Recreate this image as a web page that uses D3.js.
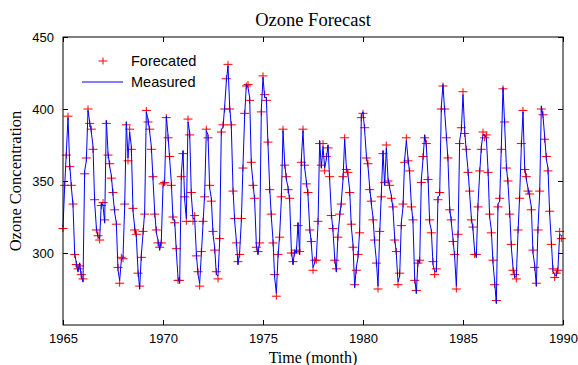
<!DOCTYPE html>
<html>
<head>
<meta charset="utf-8">
<script src="https://cdn.jsdelivr.net/npm/d3@7"></script>
<style>
  body { margin: 0; background: #fff; }
  .tick text { font-family: "Liberation Sans", Arial, sans-serif; font-size: 13px; fill: #000; }
  .tick line { stroke: #000; }
</style>
</head>
<body>
<div id="chart"></div>
<script>
// monthly values, one row per year, Jan 1965 .. Dec 1989
const measured = [
  318, 346, 370, 394, 362, 346, 333, 300, 293, 287, 293, 283, // 1965
  280, 357, 364, 399, 391, 384, 374, 335, 318, 311, 310, 335, // 1966
  333, 321, 392, 370, 360, 354, 340, 328, 321, 288, 281, 295, // 1967
  297, 332, 391, 366, 384, 374, 329, 318, 311, 288, 275, 299, // 1968
  313, 329, 398, 393, 384, 374, 351, 329, 314, 309, 302, 309, // 1969
  346, 351, 395, 382, 365, 349, 323, 323, 301, 283, 279, 355, // 1970
  371, 337, 324, 391, 384, 340, 324, 324, 300, 285, 279, 299, // 1971
  320, 341, 385, 382, 345, 338, 313, 304, 285, 284, 308, 386, // 1972
  387, 402, 419, 430, 402, 387, 345, 322, 309, 292, 301, 322, // 1973
  361, 395, 417, 415, 408, 361, 349, 336, 306, 299, 309, 400, // 1974
  422, 408, 408, 375, 346, 325, 309, 283, 272, 297, 313, 337, // 1975
  385, 363, 351, 346, 336, 302, 292, 302, 300, 321, 299, 365, // 1976
  385, 359, 350, 340, 318, 306, 290, 293, 297, 320, 378, 359, // 1977
  374, 359, 365, 375, 351, 328, 315, 297, 287, 313, 325, 336, // 1978
  351, 379, 360, 354, 344, 318, 306, 276, 290, 297, 316, 396, // 1979
  398, 385, 368, 360, 346, 334, 325, 307, 295, 277, 313, 341, // 1980
  371, 347, 373, 352, 345, 340, 330, 311, 299, 280, 284, 321, // 1981
  332, 365, 378, 366, 355, 334, 321, 283, 272, 295, 293, 351, // 1982
  365, 382, 374, 353, 321, 316, 292, 287, 287, 339, 340, 402, // 1983
  417, 398, 382, 364, 332, 321, 310, 297, 277, 311, 378, 385, // 1984
  410, 385, 370, 358, 341, 325, 316, 301, 297, 334, 355, 374, // 1985
  382, 382, 380, 358, 325, 316, 293, 280, 265, 334, 336, 374, // 1986
  415, 389, 361, 348, 329, 304, 290, 283, 284, 314, 340, 374, // 1987
  398, 360, 351, 345, 339, 332, 300, 292, 277, 318, 341, 402, // 1988
  395, 381, 365, 359, 327, 308, 287, 285, 284, 290, 313, 312  // 1989
];

const forecast = [
  317, 347, 368, 395, 360, 347, 334, 299, 292, 289, 291, 285,
  282, 355, 366, 400, 390, 386, 372, 337, 316, 312, 309, 333,
  335, 323, 390, 368, 362, 352, 342, 330, 320, 290, 279, 297,
  296, 334, 389, 364, 386, 372, 331, 316, 313, 286, 277, 297,
  315, 327, 399, 391, 386, 372, 353, 327, 316, 307, 304, 307,
  348, 349, 394, 380, 367, 347, 325, 321, 303, 281, 281, 353,
  369, 339, 322, 393, 382, 342, 322, 326, 298, 287, 277, 301,
  322, 339, 386, 380, 347, 336, 315, 302, 287, 282, 310, 384,
  389, 400, 421, 431, 400, 389, 343, 324, 307, 294, 299, 324,
  359, 397, 416, 417, 406, 363, 347, 338, 304, 301, 307, 398,
  423, 410, 406, 377, 344, 327, 307, 285, 270, 299, 311, 339,
  386, 361, 353, 344, 338, 300, 294, 300, 302, 319, 301, 363,
  386, 361, 348, 342, 316, 308, 288, 295, 295, 322, 376, 361,
  376, 357, 367, 373, 353, 326, 317, 295, 289, 311, 327, 334,
  353, 380, 358, 356, 342, 320, 304, 278, 288, 299, 314, 394,
  397, 387, 366, 362, 344, 336, 323, 309, 293, 275, 315, 339,
  369, 349, 375, 350, 347, 338, 332, 309, 301, 278, 286, 319,
  334, 363, 380, 364, 357, 332, 323, 281, 274, 293, 295, 349,
  367, 380, 376, 351, 323, 314, 294, 285, 289, 337, 342, 400,
  416, 400, 380, 366, 330, 323, 308, 299, 275, 313, 376, 387,
  412, 383, 372, 356, 343, 323, 318, 299, 299, 332, 357, 372,
  384, 380, 382, 356, 327, 314, 295, 278, 267, 332, 338, 372,
  414, 391, 359, 350, 327, 306, 288, 285, 282, 316, 338, 376,
  399, 358, 353, 343, 341, 330, 302, 290, 279, 316, 343, 400,
  396, 379, 367, 357, 329, 306, 289, 283, 286, 288, 315, 310
];

const startYear = 1965;
const xTicks = [1965, 1970, 1975, 1980, 1985, 1990];
const yTicks = [300, 350, 400, 450];
const legendLabels = ["Forecated", "Measured"];

const width = 578, height = 365;
const margin = {top: 37, right: 15, bottom: 40, left: 63};

const svg = d3.select("#chart")
  .append("svg")
  .attr("width", width)
  .attr("height", height);

const x = d3.scaleLinear()
  .domain([1965, 1990])
  .range([margin.left, width - margin.right]);

const y = d3.scaleLinear()
  .domain([250, 450])
  .range([height - margin.bottom, margin.top]);

const t = i => startYear + i / 12;

// axes, ticks pointing inward
svg.append("g")
  .attr("transform", `translate(0,${height - margin.bottom})`)
  .call(d3.axisBottom(x).tickValues(xTicks).tickFormat(d3.format("d")).tickSizeInner(-5).tickSizeOuter(0).tickPadding(9))
  .call(g => g.select(".domain").remove());

svg.append("g")
  .attr("transform", `translate(0,${margin.top})`)
  .call(d3.axisTop(x).tickValues(xTicks).tickFormat("").tickSizeInner(-5).tickSizeOuter(0))
  .call(g => g.select(".domain").remove());

svg.append("g")
  .attr("transform", `translate(${margin.left},0)`)
  .call(d3.axisLeft(y).tickValues(yTicks).tickSizeInner(-5).tickSizeOuter(0).tickPadding(9))
  .call(g => g.select(".domain").remove());

svg.append("g")
  .attr("transform", `translate(${width - margin.right},0)`)
  .call(d3.axisRight(y).tickValues(yTicks).tickFormat("").tickSizeInner(-5).tickSizeOuter(0))
  .call(g => g.select(".domain").remove());

// forecast markers
svg.append("g")
  .selectAll("path")
  .data(forecast)
  .join("path")
  .attr("d", (d, i) => {
    const cx = x(t(i)), cy = y(d);
    return `M${cx - 4.5},${cy}H${cx + 4.5}M${cx},${cy - 3.5}V${cy + 3.5}`;
  })
  .attr("stroke", "#ff0000")
  .attr("stroke-width", 1)
  .attr("fill", "none");

// measured line
const line = d3.line()
  .x((d, i) => x(t(i)))
  .y(d => y(d));

svg.append("path")
  .datum(measured)
  .attr("d", line)
  .attr("fill", "none")
  .attr("stroke", "#0000ff")
  .attr("stroke-width", 1);

// box
svg.append("rect")
  .attr("x", margin.left)
  .attr("y", margin.top)
  .attr("width", width - margin.left - margin.right)
  .attr("height", height - margin.top - margin.bottom)
  .attr("fill", "none")
  .attr("stroke", "#000")
  .attr("stroke-width", 1);

// legend
const legend = svg.append("g")
  .style("font-family", "'Liberation Sans', Arial, sans-serif")
  .style("font-size", "14.5px");

legend.append("path")
  .attr("d", "M98.5,61H107.5M103,57.5V64.5")
  .attr("stroke", "#ff0000")
  .attr("fill", "none");
legend.append("line")
  .attr("x1", 82).attr("x2", 123)
  .attr("y1", 82).attr("y2", 82)
  .attr("stroke", "#0000ff");

legend.selectAll("text")
  .data(legendLabels)
  .join("text")
  .attr("x", 131)
  .attr("y", (d, i) => 66 + i * 21)
  .text(d => d);

// title and labels
svg.append("text")
  .attr("x", (margin.left + width - margin.right) / 2)
  .attr("y", 26)
  .attr("text-anchor", "middle")
  .style("font-family", "'Liberation Serif', 'Times New Roman', serif")
  .style("font-size", "18.5px")
  .text("Ozone Forecast");

svg.append("text")
  .attr("x", (margin.left + width - margin.right) / 2)
  .attr("y", 363)
  .attr("text-anchor", "middle")
  .style("font-family", "'Liberation Serif', 'Times New Roman', serif")
  .style("font-size", "16px")
  .text("Time (month)");

svg.append("text")
  .attr("transform", `translate(21,${(margin.top + height - margin.bottom) / 2}) rotate(-90)`)
  .attr("text-anchor", "middle")
  .style("font-family", "'Liberation Serif', 'Times New Roman', serif")
  .style("font-size", "16.5px")
  .text("Ozone Concentration");
</script>
</body>
</html>
